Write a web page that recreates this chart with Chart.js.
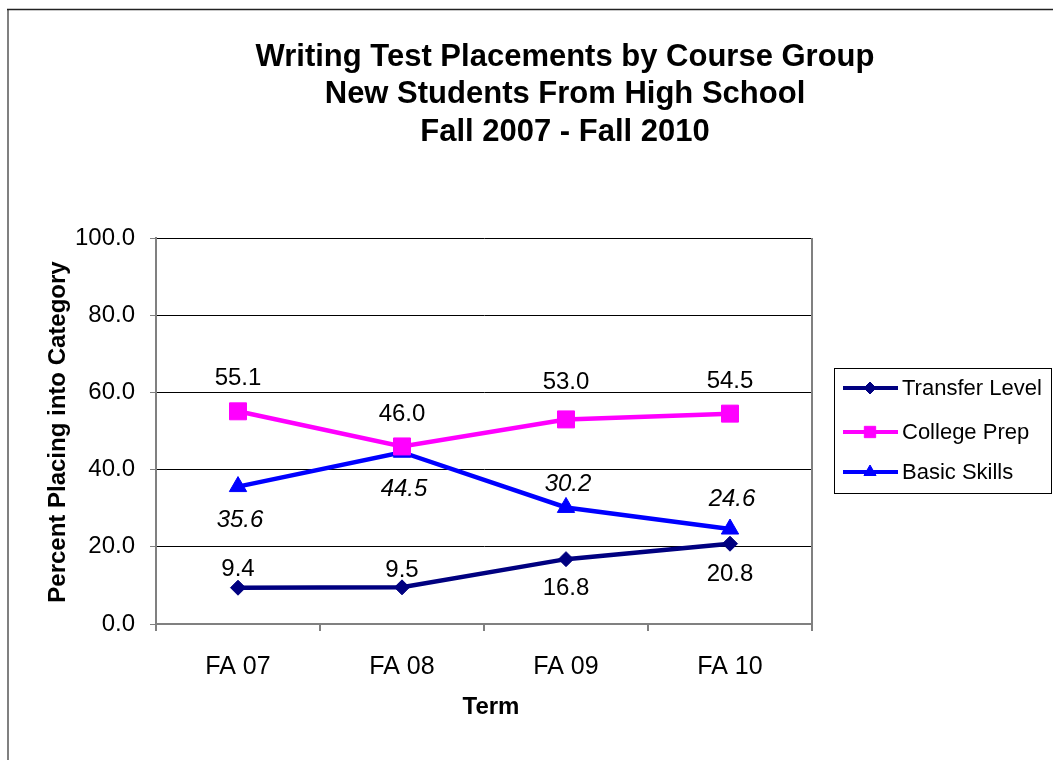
<!DOCTYPE html>
<html>
<head>
<meta charset="utf-8">
<title>Writing Test Placements by Course Group</title>
<script src="https://cdn.jsdelivr.net/npm/chart.js@4.4.0/dist/chart.umd.min.js"></script>
<style>
  html, body { margin: 0; padding: 0; background: #fff; }
  #wrap { width: 1053px; height: 760px; }
</style>
</head>
<body>
<div id="wrap"><canvas id="myChart" width="1053" height="760"></canvas></div>
<script>
// chart data
const terms = ['FA 07', 'FA 08', 'FA 09', 'FA 10'];
const transferLevel = [9.4, 9.5, 16.8, 20.8];
const collegePrep = [55.1, 46.0, 53.0, 54.5];
const basicSkills = [35.6, 44.5, 30.2, 24.6];
const seriesNames = ['Transfer Level', 'College Prep', 'Basic Skills'];
const titleLines = ['Writing Test Placements by Course Group', 'New Students From High School', 'Fall 2007 - Fall 2010'];
const yTitle = 'Percent Placing into Category';
const xTitle = 'Term';

const FONT = "'Liberation Sans', Arial, sans-serif";

/**
 * White page with the thin frame at top/left
 */
const framePlugin = {
    id: 'frame',
    beforeDraw(chart) {
        let ctx = chart.ctx;
        ctx.save();
        ctx.fillStyle = '#fff';
        ctx.fillRect(0, 0, chart.width, chart.height);
        ctx.strokeStyle = '#808080';
        ctx.lineWidth = 2;
        ctx.beginPath();
        ctx.moveTo(8, 9);
        ctx.lineTo(8, chart.height);
        ctx.stroke();
        ctx.strokeStyle = '#222';
        ctx.lineWidth = 1.5;
        ctx.beginPath();
        ctx.moveTo(7, 9.5);
        ctx.lineTo(chart.width, 9.5);
        ctx.stroke();
        ctx.restore();
    }
};

/**
 * Title + axis titles + right border of plot area
 */
const textPlugin = {
    id: 'texts',
    beforeDatasetsDraw(chart) {
        let ctx = chart.ctx;
        let area = chart.chartArea;
        ctx.save();
        ctx.strokeStyle = '#808080';
        ctx.lineWidth = 2;
        ctx.beginPath();
        ctx.moveTo(area.right, area.top);
        ctx.lineTo(area.right, area.bottom + 7);
        ctx.stroke();
        ctx.restore();
    },
    afterDraw(chart) {
        let ctx = chart.ctx;
        let area = chart.chartArea;
        ctx.save();
        ctx.fillStyle = '#000';
        ctx.textAlign = 'center';
        ctx.textBaseline = 'middle';
        ctx.font = 'bold 31px ' + FONT;
        titleLines.forEach(function (line, i) {
            ctx.fillText(line, 565, 57 + i * 37.5);
        });

        ctx.font = 'bold 24px ' + FONT;
        ctx.fillText(xTitle, (area.left + area.right) / 2 + 7, 707);

        ctx.translate(58, (area.top + area.bottom) / 2 + 1);
        ctx.rotate(-Math.PI / 2);
        ctx.fillText(yTitle, 0, 0);
        ctx.restore();
    }
};

/**
 * Value labels next to each point
 */
const valueLabelPlugin = {
    id: 'valueLabels',
    afterDatasetsDraw(chart, args, opts) {
        let ctx = chart.ctx;
        ctx.save();
        ctx.fillStyle = '#000';
        ctx.textAlign = 'center';
        ctx.textBaseline = 'middle';
        chart.data.datasets.forEach(function (ds, di) {
            let meta = chart.getDatasetMeta(di);
            let offs = opts.offsets[di];
            ctx.font = (opts.italic[di] ? 'italic ' : '') + '24px ' + FONT;
            meta.data.forEach(function (pt, i) {
                ctx.fillText(ds.data[i].toFixed(1), pt.x + (opts.italic[di] ? 2 : 0), pt.y + offs[i]);
            });
        });
        ctx.restore();
    }
};

/**
 * Legend box on the right side
 */
const legendPlugin = {
    id: 'boxLegend',
    afterDraw(chart) {
        let ctx = chart.ctx;
        let area = chart.chartArea;
        let left = area.right + 22;
        let top = 368;
        ctx.save();
        ctx.strokeStyle = '#000';
        ctx.lineWidth = 1;
        ctx.strokeRect(left + 0.5, top + 0.5, 217, 125);

        let rows = [388, 432, 472];
        let markerRadius = [6, 8, 7];
        chart.data.datasets.forEach(function (ds, i) {
            let y = rows[i];
            ctx.strokeStyle = ds.borderColor;
            ctx.lineWidth = 4;
            ctx.beginPath();
            ctx.moveTo(left + 9, y);
            ctx.lineTo(left + 64, y);
            ctx.stroke();
            ctx.fillStyle = ds.borderColor;
            ctx.strokeStyle = ds.borderColor;
            ctx.lineWidth = 1;
            Chart.helpers.drawPoint(ctx, { pointStyle: ds.pointStyle, radius: markerRadius[i], rotation: 0, borderWidth: 1 }, left + 36, y);
            ctx.fillStyle = '#000';
            ctx.font = '22px ' + FONT;
            ctx.textAlign = 'left';
            ctx.textBaseline = 'middle';
            ctx.fillText(ds.label, left + 68, y + 1);
        });
        ctx.restore();
    }
};

function initChart() {
    let data = {
        labels: terms,
        datasets: [{
            label: seriesNames[0],
            data: transferLevel,
            borderColor: '#000080',
            backgroundColor: '#000080',
            borderWidth: 4.5,
            pointStyle: 'rectRot',
            pointRadius: 7.5,
            pointBorderWidth: 1
        }, {
            label: seriesNames[1],
            data: collegePrep,
            borderColor: '#FF00FF',
            backgroundColor: '#FF00FF',
            borderWidth: 4.5,
            pointStyle: 'rect',
            pointRadius: 12,
            pointBorderWidth: 1
        }, {
            label: seriesNames[2],
            data: basicSkills,
            borderColor: '#0000FF',
            backgroundColor: '#0000FF',
            borderWidth: 4.5,
            pointStyle: 'triangle',
            pointRadius: 10,
            pointBorderWidth: 1
        }]
    };

    let options = {
        responsive: false,
        animation: false,
        layout: {
            padding: { left: 0, right: 241, top: 238, bottom: 0 }
        },
        plugins: {
            legend: { display: false },
            tooltip: { enabled: false },
            valueLabels: {
                offsets: [[-18, -17, 29, 31], [-33, -32, -37, -32], [34, 37, -23, -30]],
                italic: [false, false, true]
            }
        },
        scales: {
            x: {
                offset: true,
                grid: {
                    offset: true,
                    drawOnChartArea: false,
                    drawTicks: true,
                    tickLength: 7,
                    color: '#808080',
                    lineWidth: 2
                },
                border: { color: '#808080', width: 2 },
                ticks: {
                    color: '#000',
                    padding: 21,
                    font: { family: FONT, size: 25 }
                },
                afterFit: function (scale) { scale.height = 136; }
            },
            y: {
                min: 0,
                max: 100,
                grid: {
                    color: '#000',
                    lineWidth: 1,
                    tickLength: 6,
                    tickColor: '#808080'
                },
                border: { color: '#808080', width: 2 },
                ticks: {
                    stepSize: 20,
                    color: '#000',
                    padding: 15,
                    font: { family: FONT, size: 24 },
                    callback: function (v) { return Number(v).toFixed(1); }
                },
                afterFit: function (scale) { scale.width = 156; }
            }
        }
    };

    let ctx = document.getElementById('myChart').getContext('2d');
    new Chart(ctx, {
        type: 'line',
        data: data,
        options: options,
        plugins: [framePlugin, textPlugin, valueLabelPlugin, legendPlugin]
    });
}

initChart();
</script>
</body>
</html>
